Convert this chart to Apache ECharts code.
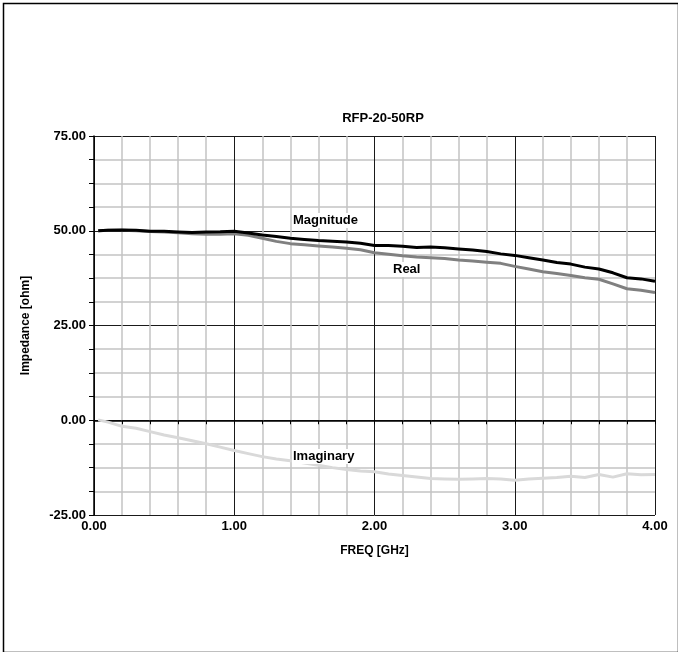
<!DOCTYPE html>
<html>
<head>
<meta charset="utf-8">
<script src="https://cdn.jsdelivr.net/npm/echarts@6/dist/echarts.min.js"></script>
<style>
html,body{margin:0;padding:0;background:#fff;}
#chart{width:678px;height:652px;}
</style>
</head>
<body>
<div id="chart"></div>
<script>
const title = 'RFP-20-50RP';
const xName = 'FREQ [GHz]';
const yName = 'Impedance [ohm]';
const seriesNames = ['Magnitude', 'Real', 'Imaginary'];
const freq = [0.03,0.1,0.2,0.3,0.4,0.5,0.6,0.7,0.8,0.9,1.0,1.1,1.2,1.3,1.4,1.5,1.6,1.7,1.8,1.9,2.0,2.1,2.2,2.3,2.4,2.5,2.6,2.7,2.8,2.9,3.0,3.1,3.2,3.3,3.4,3.5,3.6,3.7,3.8,3.9,4.0];
const magnitude = [50.0,50.1,50.2,50.1,49.9,49.85,49.7,49.55,49.7,49.75,49.85,49.4,48.9,48.5,48.0,47.7,47.4,47.2,47.0,46.7,46.1,46.1,45.9,45.6,45.7,45.5,45.2,44.9,44.5,43.9,43.5,42.9,42.3,41.6,41.2,40.4,39.9,38.9,37.6,37.3,36.7];
const real = [50.0,50.1,50.15,50.0,49.8,49.7,49.5,49.2,49.1,49.1,49.2,48.8,48.0,47.2,46.6,46.3,46.0,45.7,45.4,45.0,44.2,43.8,43.4,43.1,42.9,42.7,42.3,42.0,41.7,41.4,40.6,39.9,39.2,38.7,38.2,37.6,37.2,36.0,34.7,34.3,33.7];
const imaginary = [0.1,-0.5,-1.6,-2.1,-3.0,-3.9,-4.6,-5.4,-6.2,-7.1,-8.0,-8.8,-9.6,-10.2,-10.7,-11.3,-11.9,-12.5,-13.0,-13.4,-13.6,-14.2,-14.6,-15.0,-15.4,-15.5,-15.6,-15.5,-15.4,-15.5,-15.8,-15.5,-15.3,-15.1,-14.8,-15.1,-14.3,-15.0,-14.1,-14.4,-14.3];
const xTicks = {min: 0, max: 4, interval: 1};
const yTicks = {min: -25, max: 75, interval: 25};

const font = '"Liberation Sans", Arial, sans-serif';
const chart = echarts.init(document.getElementById('chart'), null, {renderer: 'canvas'});
const pair = (arr) => freq.map((f, i) => [f, arr[i]]);
const lineColors = ['#000000', '#808080', '#d9d9d9'];
const dataSets = [magnitude, real, imaginary];

chart.setOption({
  animation: false,
  backgroundColor: '#ffffff',
  title: {
    text: title, left: 378, top: 107, textAlign: 'center',
    textStyle: {fontFamily: font, fontSize: 13, fontWeight: 'bold', color: '#000'}
  },
  grid: {left: 94, top: 136, width: 561, height: 379, containLabel: false},
  xAxis: {
    type: 'value', min: xTicks.min, max: xTicks.max, interval: xTicks.interval,
    name: xName, nameLocation: 'middle', nameGap: 30,
    nameTextStyle: {fontFamily: font, fontSize: 12, fontWeight: 'bold', color: '#000'},
    axisLine: {lineStyle: {color: '#000', width: 1.5}},
    axisTick: {show: true, length: 4, lineStyle: {color: '#000'}},
    minorTick: {show: true, splitNumber: 5, length: 4, lineStyle: {color: '#000'}},
    axisLabel: {fontFamily: font, fontSize: 13, fontWeight: 'bold', color: '#000', margin: 5,
      formatter: v => v.toFixed(2)},
    splitLine: {show: true, lineStyle: {color: '#1a1a1a', width: 1}},
    minorSplitLine: {show: true, lineStyle: {color: '#c4c4c4', width: 1.5}}
  },
  yAxis: {
    type: 'value', min: yTicks.min, max: yTicks.max, interval: yTicks.interval,
    name: yName, nameLocation: 'middle', nameGap: 62, nameRotate: 90,
    nameTextStyle: {fontFamily: font, fontSize: 12, fontWeight: 'bold', color: '#000'},
    axisLine: {show: true, lineStyle: {color: '#000', width: 1.5}},
    axisTick: {show: true, length: 5, lineStyle: {color: '#000'}},
    minorTick: {show: true, splitNumber: 4, length: 5, lineStyle: {color: '#000'}},
    axisLabel: {fontFamily: font, fontSize: 13, fontWeight: 'bold', color: '#000', margin: 8,
      formatter: v => v.toFixed(2)},
    splitLine: {show: true, lineStyle: {color: '#1a1a1a', width: 1}},
    minorSplitLine: {show: true, lineStyle: {color: '#c4c4c4', width: 1.5}}
  },
  series: seriesNames.map((n, i) => ({
    name: n, type: 'line', showSymbol: false, symbol: 'none', smooth: false,
    z: 5 - i,
    lineStyle: {color: lineColors[i], width: 3},
    data: pair(dataSets[i])
  })),
  graphic: [
    {type: 'rect', left: 1, top: 1, z: 100, shape: {width: 675, height: 649},
      style: {fill: 'none', stroke: '#000', lineWidth: 1.5}, silent: true},
    {type: 'text', left: 292, top: 213, z: 100, style: {text: seriesNames[0], font: 'bold 13px ' + font, fill: '#000', backgroundColor: '#fff', padding: [1, 1]}},
    {type: 'text', left: 392, top: 262, z: 100, style: {text: seriesNames[1], font: 'bold 13px ' + font, fill: '#000', backgroundColor: '#fff', padding: [1, 1]}},
    {type: 'text', left: 292, top: 449, z: 100, style: {text: seriesNames[2], font: 'bold 13px ' + font, fill: '#000', backgroundColor: '#fff', padding: [1, 1]}}
  ]
});
</script>
</body>
</html>
